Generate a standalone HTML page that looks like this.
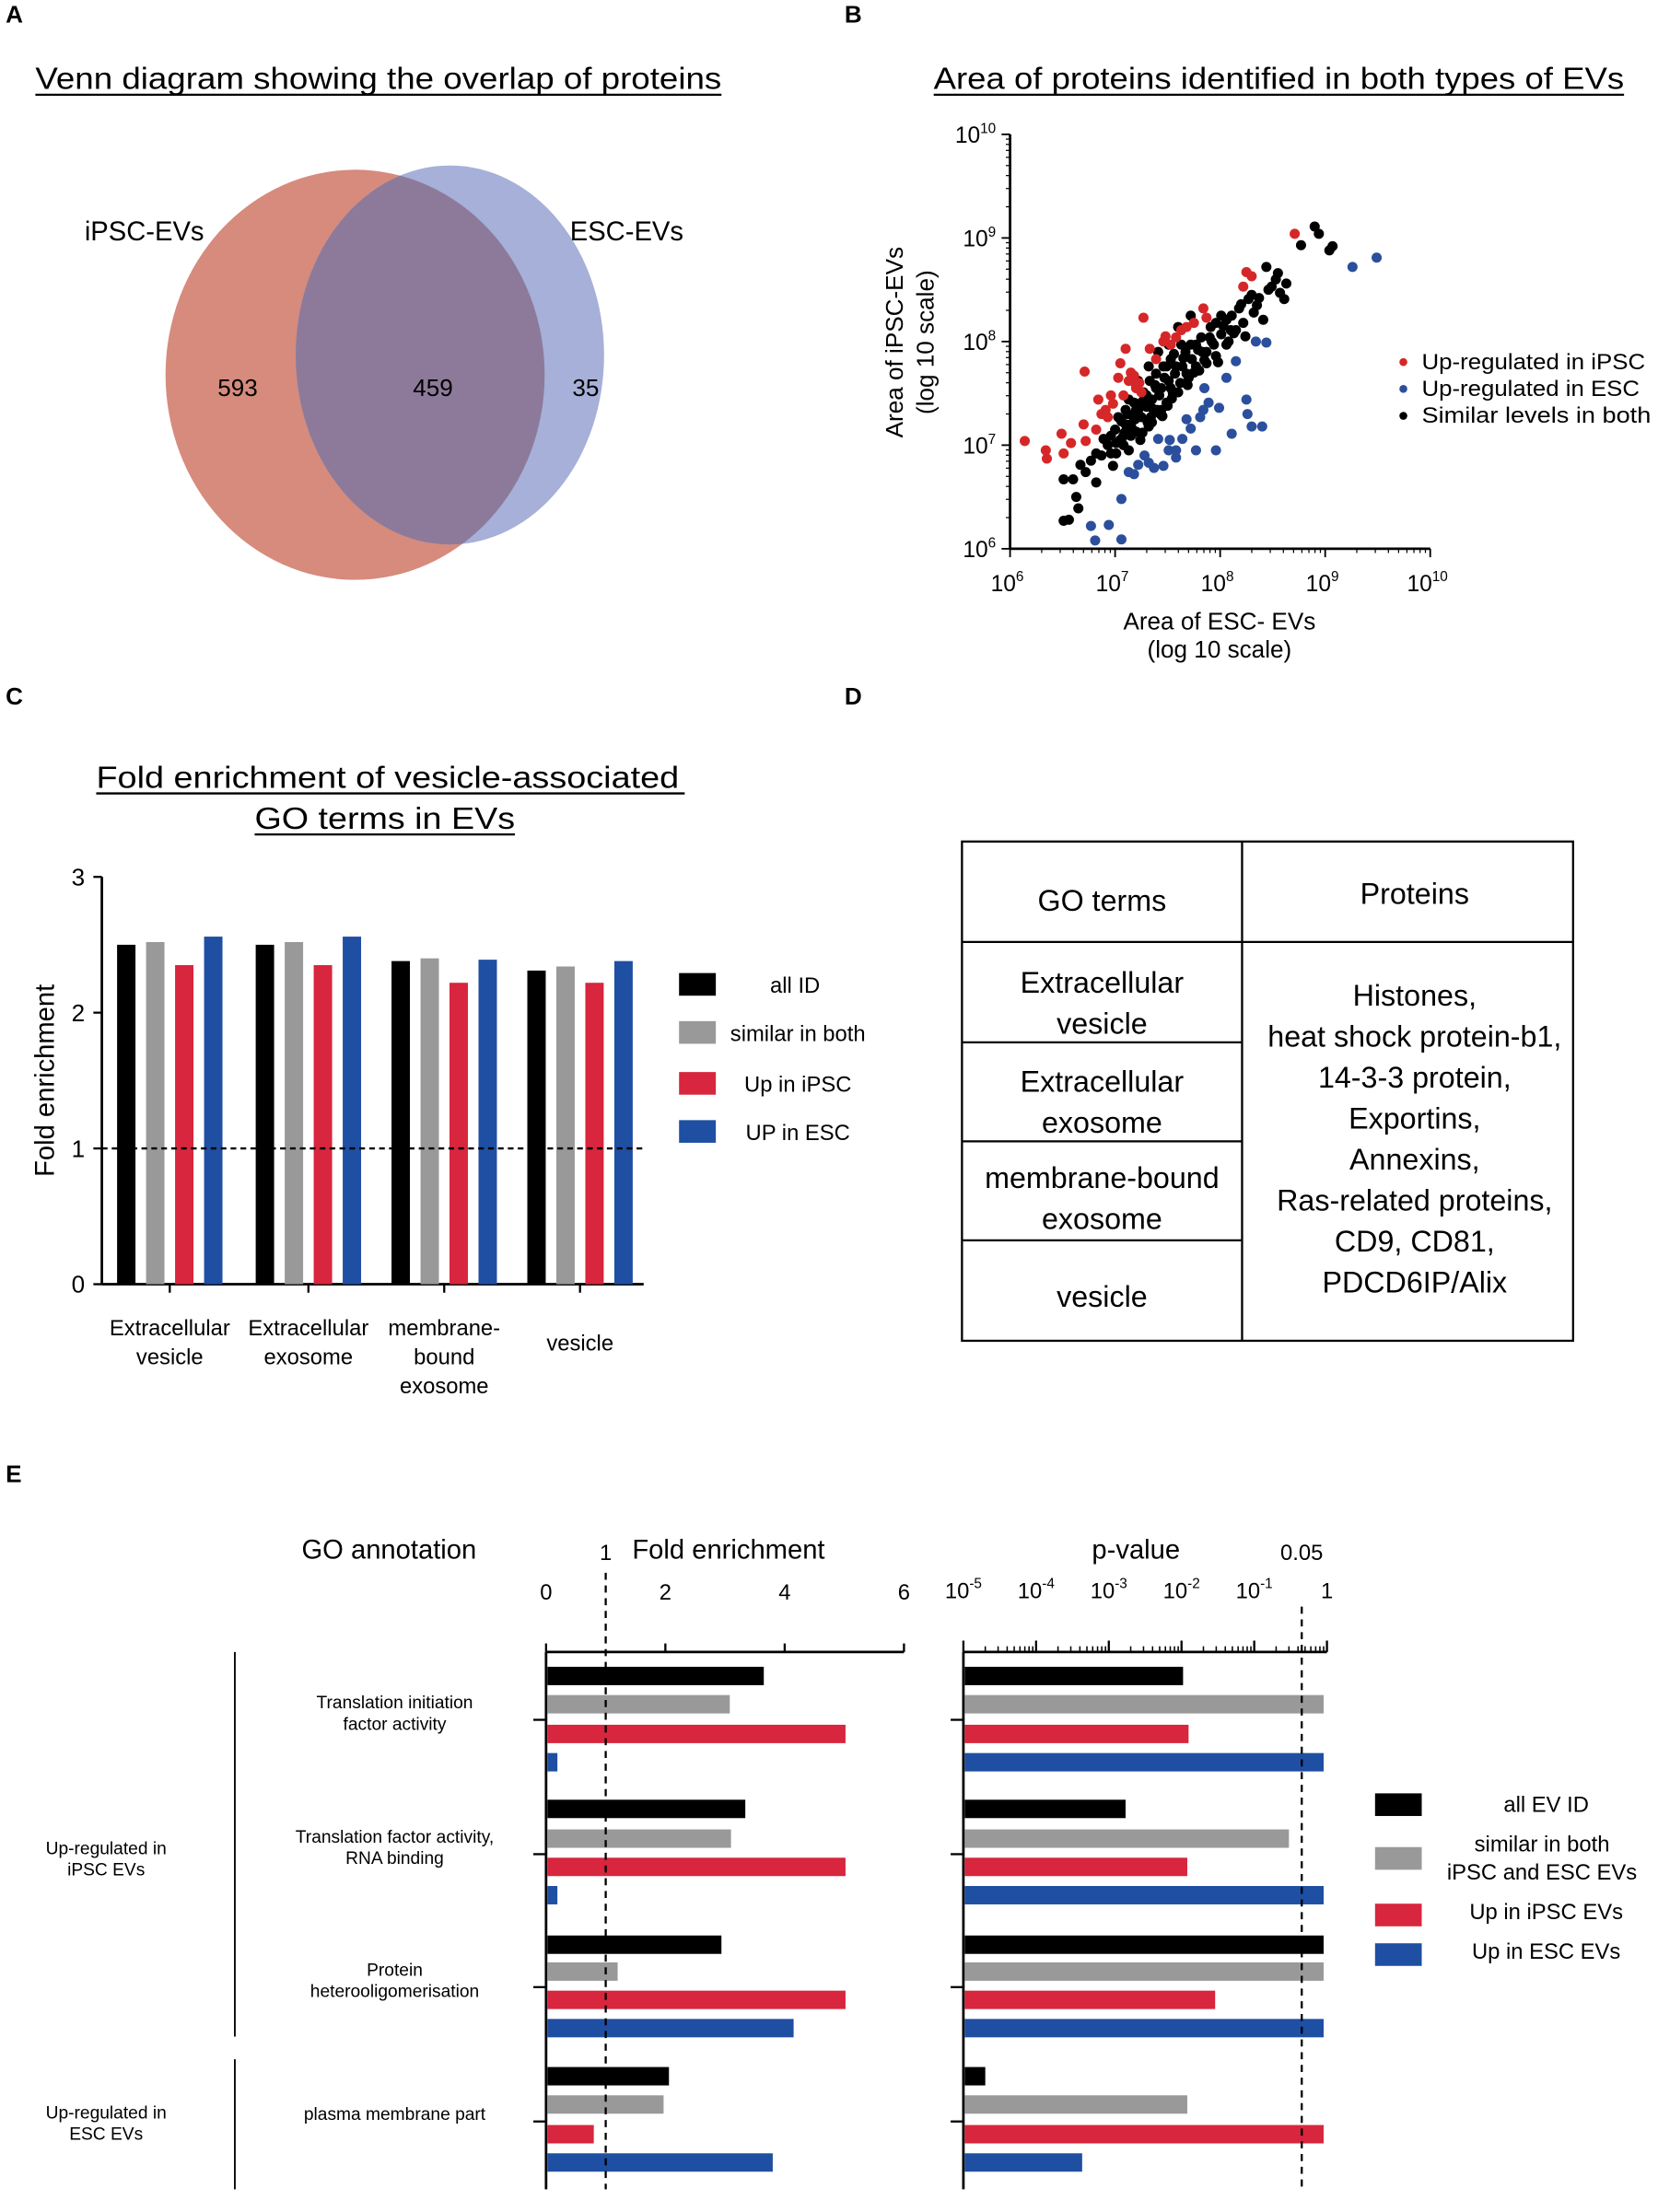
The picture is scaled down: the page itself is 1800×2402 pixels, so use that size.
<!DOCTYPE html>
<html><head><meta charset="utf-8">
<style>
html,body{margin:0;padding:0;background:#fff;}
svg{display:block;font-family:"Liberation Sans",Arial,sans-serif;}
</style></head>
<body>
<svg id="fig" width="1800" height="2402" viewBox="0 0 1172 1564" xmlns="http://www.w3.org/2000/svg">
<defs>
<clipPath id="redClip"><ellipse cx="251" cy="265" rx="134" ry="145"/></clipPath>
</defs>
<g font-weight="bold" font-size="17">
<text x="4" y="16">A</text>
<text x="597" y="16">B</text>
<text x="4" y="498">C</text>
<text x="597" y="498">D</text>
<text x="4" y="1048">E</text>
</g>

<g>
<text x="25" y="63" font-size="22" textLength="485" lengthAdjust="spacingAndGlyphs">Venn diagram showing the overlap of proteins</text>
<line x1="25" y1="67" x2="510" y2="67" stroke="#000" stroke-width="1.5"/>
<ellipse cx="251" cy="265" rx="134" ry="145" fill="#d68b7d"/>
<ellipse cx="318" cy="251" rx="109" ry="134" fill="#a6b0d8"/>
<ellipse cx="318" cy="251" rx="109" ry="134" fill="#8d7a9a" clip-path="url(#redClip)"/>
<text x="102" y="170" font-size="19" text-anchor="middle">iPSC-EVs</text>
<text x="443" y="170" font-size="19" text-anchor="middle">ESC-EVs</text>
<text x="168" y="280" font-size="17" text-anchor="middle">593</text>
<text x="306" y="280" font-size="17" text-anchor="middle">459</text>
<text x="414" y="280" font-size="17" text-anchor="middle">35</text>
</g>

<g id="scatter">
<text x="660" y="63" font-size="22" textLength="488" lengthAdjust="spacingAndGlyphs">Area of proteins identified in both types of EVs</text>
<line x1="660" y1="67" x2="1148" y2="67" stroke="#000" stroke-width="1.5"/>
<text transform="translate(638,242) rotate(-90)" font-size="17" text-anchor="middle">Area of iPSC-EVs</text>
<text transform="translate(660,242) rotate(-90)" font-size="17" text-anchor="middle">(log 10 scale)</text>
<text x="862" y="445" font-size="17" text-anchor="middle">Area of ESC- EVs</text>
<text x="862" y="465" font-size="17" text-anchor="middle">(log 10 scale)</text>
<g font-size="15.5">
<circle cx="992" cy="256" r="2.8" fill="#d62728"/>
<text x="1005" y="261" textLength="158" lengthAdjust="spacingAndGlyphs">Up-regulated in iPSC</text>
<circle cx="992" cy="275" r="2.8" fill="#2b4f9c"/>
<text x="1005" y="280" textLength="154" lengthAdjust="spacingAndGlyphs">Up-regulated in ESC</text>
<circle cx="992" cy="294" r="2.8" fill="#000"/>
<text x="1005" y="299" textLength="162" lengthAdjust="spacingAndGlyphs">Similar levels in both</text>
</g>
</g>

<g id="barC">
<text x="68" y="557" font-size="22" textLength="412" lengthAdjust="spacingAndGlyphs">Fold enrichment of vesicle-associated</text>
<line x1="68" y1="561" x2="484" y2="561" stroke="#000" stroke-width="1.5"/>
<text x="180" y="586" font-size="22" textLength="184" lengthAdjust="spacingAndGlyphs">GO terms in EVs</text>
<line x1="180" y1="590" x2="364" y2="590" stroke="#000" stroke-width="1.5"/>
<text transform="translate(38,764) rotate(-90)" font-size="19" text-anchor="middle">Fold enrichment</text>
</g>

<g font-size="21" text-anchor="middle">
<rect x="680" y="595" width="432" height="353" fill="none" stroke="#000" stroke-width="1.5"/>
<line x1="878" y1="595" x2="878" y2="948" stroke="#000" stroke-width="1.5"/>
<line x1="680" y1="666" x2="1112" y2="666" stroke="#000" stroke-width="1.5"/>
<line x1="680" y1="737" x2="878" y2="737" stroke="#000" stroke-width="1.5"/>
<line x1="680" y1="807" x2="878" y2="807" stroke="#000" stroke-width="1.5"/>
<line x1="680" y1="877" x2="878" y2="877" stroke="#000" stroke-width="1.5"/>
<text x="779" y="644">GO terms</text>
<text x="1000" y="639">Proteins</text>
<text x="779" y="702">Extracellular</text>
<text x="779" y="731">vesicle</text>
<text x="779" y="772">Extracellular</text>
<text x="779" y="801">exosome</text>
<text x="779" y="840">membrane-bound</text>
<text x="779" y="869">exosome</text>
<text x="779" y="924">vesicle</text>
<g>
<text x="1000" y="711">Histones,</text>
<text x="1000" y="740">heat shock protein-b1,</text>
<text x="1000" y="769">14-3-3 protein,</text>
<text x="1000" y="798">Exportins,</text>
<text x="1000" y="827">Annexins,</text>
<text x="1000" y="856">Ras-related proteins,</text>
<text x="1000" y="885">CD9, CD81,</text>
<text x="1000" y="914">PDCD6IP/Alix</text>
</g>
</g>

<g id="panelE">
<text x="275" y="1102" font-size="19" text-anchor="middle">GO annotation</text>
<text x="515" y="1102" font-size="19" text-anchor="middle">Fold enrichment</text>
<text x="803" y="1102" font-size="19" text-anchor="middle">p-value</text>
<line x1="166" y1="1168" x2="166" y2="1440" stroke="#000" stroke-width="1.2"/>
<line x1="166" y1="1456" x2="166" y2="1548" stroke="#000" stroke-width="1.2"/>
<text x="75" y="1311" font-size="12.5" text-anchor="middle">Up-regulated in</text>
<text x="75" y="1326" font-size="12.5" text-anchor="middle">iPSC EVs</text>
<text x="75" y="1498" font-size="12.5" text-anchor="middle">Up-regulated in</text>
<text x="75" y="1513" font-size="12.5" text-anchor="middle">ESC EVs</text>
<g font-size="15.5" text-anchor="middle">
<rect x="972" y="1268" width="33" height="16" fill="#000"/>
<text x="1093" y="1281">all EV ID</text>
<rect x="972" y="1306" width="33" height="16" fill="#999"/>
<text x="1090" y="1309">similar in both</text>
<text x="1090" y="1329">iPSC and ESC EVs</text>
<rect x="972" y="1346" width="33" height="16" fill="#d7263d"/>
<text x="1093" y="1357">Up in iPSC EVs</text>
<rect x="972" y="1374" width="33" height="16" fill="#1f4fa3"/>
<text x="1093" y="1385">Up in ESC EVs</text>
</g>
</g>
</svg>
<script>
// ---------- Panel B data (log10 areas) ----------
const redX=[6.14,6.34,6.35,6.49,6.51,6.58,6.71,6.70,6.72,6.82,6.84,6.91,6.96,7.03,7.05,7.10,7.13,7.20,7.25,7.27,7.33,7.39,7.46,7.53,7.58,7.63,7.68,7.75,7.84,7.87,8.22,8.25,8.30,8.71,6.93,7.08,7.18,7.20,6.98,7.15,7.23,7.48,6.87];
const redY=[7.04,6.95,6.87,7.11,6.92,7.02,7.71,7.20,7.04,7.15,7.44,7.34,7.48,7.65,7.79,7.93,7.62,7.58,7.51,8.23,7.93,7.83,8.00,7.97,8.04,8.11,8.14,8.18,8.32,8.23,8.53,8.67,8.63,9.04,7.27,7.48,7.67,7.55,7.40,7.70,7.60,8.05,7.30];
const blueX=[6.77,6.81,6.94,7.06,7.06,7.13,7.18,7.22,7.32,7.37,7.46,7.51,7.58,7.64,7.77,7.81,7.84,7.89,7.96,7.99,8.06,8.11,8.15,8.25,8.26,8.30,8.40,8.34,8.44,9.26,9.49,7.41,7.72,7.58,7.28,7.52,7.68,7.85];
const blueY=[6.22,6.08,6.23,6.09,6.48,6.74,6.72,6.81,6.83,6.78,6.80,6.95,6.95,7.06,6.95,7.27,7.34,7.41,6.95,7.36,7.65,7.11,7.81,7.44,7.30,7.18,7.18,8.00,7.99,8.72,8.81,7.06,7.16,6.88,6.90,7.05,7.25,7.55];
const blackX=[6.51,6.51,6.56,6.60,6.63,6.65,6.67,6.72,6.77,6.82,6.82,6.87,6.89,6.96,7.00,7.01,7.06,7.08,7.10,7.13,7.15,7.18,7.20,7.22,7.25,7.27,7.30,7.32,7.33,7.35,7.39,7.40,7.44,7.46,7.49,7.51,7.53,7.57,7.60,7.64,7.67,7.70,7.73,7.77,7.80,7.83,7.87,7.90,7.94,7.96,8.01,8.06,8.08,8.11,8.15,8.18,8.22,8.27,8.32,8.37,8.41,8.44,8.49,8.53,8.57,8.61,8.63,8.77,8.90,8.94,9.04,9.07,7.39,7.44,7.49,7.53,7.58,7.63,7.68,7.72,7.77,7.82,7.87,7.91,7.96,8.01,8.06,8.10,7.34,7.30,7.25,7.20,7.15,7.10,7.06,7.01,6.96,7.03,7.13,7.22,7.32,7.41,7.51,7.60,7.72,7.05,7.09,7.12,7.16,7.19,7.24,7.28,7.31,7.36,7.38,7.42,7.45,7.47,7.50,7.55,7.56,7.62,7.65,7.69,7.75,7.79,7.85,7.92,7.98,8.03,8.13,8.20,8.24,8.30,8.35,8.46,8.55,7.08,7.17,7.26,7.35,7.43,7.54,6.93,6.98];
const blackY=[6.67,6.27,6.28,6.67,6.50,6.39,6.81,6.74,6.85,6.92,6.64,6.90,7.06,6.92,7.15,7.02,7.23,7.09,7.34,6.95,7.20,7.41,7.13,7.34,7.27,7.51,7.37,7.18,7.62,7.44,7.69,7.34,7.55,7.76,7.41,7.62,7.83,7.69,7.51,7.76,7.90,7.65,7.83,7.97,7.72,7.90,7.79,8.04,7.97,8.18,8.07,8.21,8.00,8.25,8.11,8.32,8.18,8.41,8.28,8.42,8.21,8.72,8.53,8.60,8.47,8.41,8.56,8.93,9.11,9.04,8.88,8.92,7.55,7.34,7.76,7.55,7.76,7.97,7.69,7.97,7.76,8.04,7.90,8.14,7.86,8.25,7.97,8.11,7.27,7.48,7.41,7.34,7.09,7.20,7.06,6.92,7.09,7.27,7.44,7.62,7.76,7.90,7.97,8.14,8.25,7.05,7.12,7.30,7.16,7.25,7.05,7.45,7.22,7.35,7.58,7.48,7.28,7.65,7.38,7.50,7.88,7.60,7.84,7.58,7.70,7.92,7.82,8.00,7.80,8.15,8.08,8.36,8.05,8.45,8.35,8.50,8.66,7.00,7.28,7.12,7.22,7.30,7.45,7.00,6.80];
const bTicks=["6","7","8","9","10"];

// ---------- Panel C data ----------
const cCategories=[["Extracellular","vesicle"],["Extracellular","exosome"],["membrane-","bound","exosome"],["vesicle"]];
const cAll=[2.50,2.50,2.38,2.31];
const cSimilar=[2.52,2.52,2.40,2.34];
const cUpIPSC=[2.35,2.35,2.22,2.22];
const cUpESC=[2.56,2.56,2.39,2.38];
const cTicks=[0,1,2,3];
const cLegend=["all ID","similar in both","Up in iPSC","UP in ESC"];

// ---------- Panel E data ----------
const eTerms=[["Translation initiation","factor activity"],["Translation factor activity,","RNA binding"],["Protein","heterooligomerisation"],["plasma membrane part"]];
const eFoldAll=[3.65,3.34,2.94,2.06];
const eFoldSimilar=[3.08,3.10,1.20,1.97];
const eFoldUpIPSC=[5.02,5.02,5.02,0.80];
const eFoldUpESC=[0.19,0.19,4.15,3.80];
const ePAll=[0.0105,0.0017,0.9,0.00002];
const ePSimilar=[0.9,0.3,0.9,0.012];
const ePUpIPSC=[0.0125,0.012,0.029,0.9];
const ePUpESC=[0.9,0.9,0.9,0.00043];
const eFoldTicks=[0,2,4,6];
const ePTickExps=[-5,-4,-3,-2,-1,0];
const ePThreshold=0.45; // dashed significance line as drawn in the original figure

const NS="http://www.w3.org/2000/svg";
const svg=document.getElementById('fig');
function mk(tag,attrs,parent){const e=document.createElementNS(NS,tag);for(const k in attrs)e.setAttribute(k,attrs[k]);(parent||svg).appendChild(e);return e;}
const BLACK="#000",GRAY="#999",RED="#d7263d",BLUE="#1f4fa3";

// ===== Panel B =====
(function(){
const g=document.getElementById('scatter');
const x0=714,x1=1011,y0=388,y1=95;
const sx=v=>x0+(v-6)/4*(x1-x0);
const sy=v=>y0-(v-6)/4*(y0-y1);
let a=mk('line',{x1:x0,y1:y0,x2:x1,y2:y0,stroke:'#000','stroke-width':1.8},g);


a=mk('line',{x1:x0,y1:y0,x2:x0,y2:y1,stroke:'#000','stroke-width':1.8},g);


for(let d=6;d<=10;d++){
  const xt=sx(d),yt=sy(d);
  mk('line',{x1:xt,y1:y0,x2:xt,y2:y0+6,stroke:'#000','stroke-width':1.2},g);
  mk('line',{x1:x0,y1:yt,x2:x0-6,y2:yt,stroke:'#000','stroke-width':1.2},g);
  if(d<10){for(let m=2;m<=9;m++){const f=Math.log10(m);
    mk('line',{x1:sx(d+f),y1:y0,x2:sx(d+f),y2:y0+3,stroke:'#000','stroke-width':0.8},g);
    mk('line',{x1:x0,y1:sy(d+f),x2:x0-3,y2:sy(d+f),stroke:'#000','stroke-width':0.8},g);}}
}
bTicks.forEach((t,i)=>{
  const d=6+i;
  let tx=mk('text',{x:sx(d)-2,y:y0+30,'font-size':16,'text-anchor':'middle'},g);
  tx.innerHTML='10<tspan dy="-7" font-size="10">'+t+'</tspan>';
  
  
  let ty=mk('text',{x:x0-10,y:sy(d)+6,'font-size':16,'text-anchor':'end'},g);
  ty.innerHTML='10<tspan dy="-7" font-size="10">'+t+'</tspan>';
  
  
});
function pts(X,Y,col,name){for(let i=0;i<X.length;i++){const c=mk('circle',{cx:sx(X[i]),cy:sy(Y[i]),r:3.6,fill:col},g);
  
  }}
pts(blackX,blackY,'#000','point-similar');
pts(redX,redY,'#d62728','point-up-ipsc');
pts(blueX,blueY,'#2b4f9c','point-up-esc');
})();

// ===== Panel C =====
(function(){
const g=document.getElementById('barC');
const xL=72,xR=455,yB=908,yT=620;
const sy=v=>yB-v/3*(yB-yT);
const centers=[120,218,314,410];
const bw=13,step=20.5;
let a=mk('line',{x1:xL,y1:yT,x2:xL,y2:yB,stroke:'#000','stroke-width':1.8},g);


a=mk('line',{x1:xL,y1:yB,x2:xR,y2:yB,stroke:'#000','stroke-width':1.8},g);


cTicks.forEach(t=>{mk('line',{x1:xL-6,y1:sy(t),x2:xL,y2:sy(t),stroke:'#000','stroke-width':1.5},g);
  const tx=mk('text',{x:xL-12,y:sy(t)+6,'font-size':17,'text-anchor':'end'},g);tx.textContent=t;
  
  });
const series=[[cAll,BLACK,'bar-all-id'],[cSimilar,GRAY,'bar-similar'],[cUpIPSC,RED,'bar-up-ipsc'],[cUpESC,BLUE,'bar-up-esc']];
centers.forEach((c,i)=>{
  series.forEach((s,j)=>{const x=c-1.5*step+j*step-bw/2;const v=s[0][i];
    const r=mk('rect',{x:x,y:sy(v),width:bw,height:yB-sy(v),fill:s[1]},g);
    
    });
  mk('line',{x1:c,y1:yB,x2:c,y2:yB+6,stroke:'#000','stroke-width':1.5},g);
  const lines=cCategories[i];
  lines.forEach((l,k)=>{const t=mk('text',{x:c,y:(lines.length===1?955:944)+k*20.5,'font-size':15.5,'text-anchor':'middle'},g);t.textContent=l;
    
    });
});
a=mk('line',{x1:xL,y1:sy(1),x2:xR,y2:sy(1),stroke:'#000','stroke-width':1.5,'stroke-dasharray':'4,3'},g);


const lc=[BLACK,GRAY,RED,BLUE],ly=[688,722,758,792],lx=[562,564,564,564];
cLegend.forEach((l,i)=>{const r=mk('rect',{x:480,y:ly[i],width:26,height:16,fill:lc[i]},g);
  
  
  const t=mk('text',{x:lx[i],y:ly[i]+14,'font-size':15.5,'text-anchor':'middle'},g);t.textContent=l;
  
  });
})();

// ===== Panel E =====
(function(){
const g=document.getElementById('panelE');
const yTop=1168,yBot=1548;
const groupY=[[1185,1205,1226,1246],[1279,1300,1320,1340],[1375,1394,1414,1434],[1468,1488,1509,1529]];
const tickY=[1216,1311,1405,1500];
const bh=13;
const fx0=386,fx1=639;const fx=v=>fx0+v/6*(fx1-fx0);
let a=mk('line',{x1:fx0,y1:yTop,x2:fx1,y2:yTop,stroke:'#000','stroke-width':1.8},g);


a=mk('line',{x1:fx0,y1:yTop,x2:fx0,y2:yBot,stroke:'#000','stroke-width':1.8},g);


eFoldTicks.forEach(t=>{mk('line',{x1:fx(t),y1:yTop,x2:fx(t),y2:yTop-6,stroke:'#000','stroke-width':1.5},g);
  const tx=mk('text',{x:fx(t),y:1131,'font-size':15.5,'text-anchor':'middle'},g);tx.textContent=t;
  
  });
let t1=mk('text',{x:fx(1),y:1103,'font-size':15.5,'text-anchor':'middle'},g);t1.textContent='1';


const px0=681,px1=938;const px=v=>px0+(Math.log10(v)+5)/5*(px1-px0);
a=mk('line',{x1:px0,y1:yTop,x2:px1,y2:yTop,stroke:'#000','stroke-width':1.8},g);


a=mk('line',{x1:px0,y1:yTop,x2:px0,y2:yBot,stroke:'#000','stroke-width':1.8},g);


ePTickExps.forEach(e=>{const x=px(Math.pow(10,e));
  mk('line',{x1:x,y1:yTop,x2:x,y2:yTop-8,stroke:'#000','stroke-width':1.5},g);
  if(e<0){for(let m=2;m<=9;m++){const xm=px(m*Math.pow(10,e));mk('line',{x1:xm,y1:yTop,x2:xm,y2:yTop-4,stroke:'#000','stroke-width':1},g);}}
  const tx=mk('text',{x:x,y:1130,'font-size':15.5,'text-anchor':'middle'},g);
  tx.innerHTML=e===0?'1':'10<tspan dy="-7" font-size="10">'+e+'</tspan>';
  
  });
let t5=mk('text',{x:px(ePThreshold),y:1103,'font-size':15.5,'text-anchor':'middle'},g);t5.textContent='0.05';


const fser=[[eFoldAll,BLACK,'fold-bar-all'],[eFoldSimilar,GRAY,'fold-bar-similar'],[eFoldUpIPSC,RED,'fold-bar-up-ipsc'],[eFoldUpESC,BLUE,'fold-bar-up-esc']];
const pser=[[ePAll,BLACK,'p-bar-all'],[ePSimilar,GRAY,'p-bar-similar'],[ePUpIPSC,RED,'p-bar-up-ipsc'],[ePUpESC,BLUE,'p-bar-up-esc']];
for(let i=0;i<4;i++){
  fser.forEach((s,j)=>{const y=groupY[i][j]-bh/2;
    const r=mk('rect',{x:fx0+1,y:y,width:fx(s[0][i])-fx0-1,height:bh,fill:s[1]},g);
    
    });
  pser.forEach((s,j)=>{const y=groupY[i][j]-bh/2;
    const r=mk('rect',{x:px0+1,y:y,width:px(s[0][i])-px0-1,height:bh,fill:s[1]},g);
    
    });
  mk('line',{x1:fx0-9,y1:tickY[i],x2:fx0,y2:tickY[i],stroke:'#000','stroke-width':1.5},g);
  mk('line',{x1:px0-9,y1:tickY[i],x2:px0,y2:tickY[i],stroke:'#000','stroke-width':1.5},g);
  const lines=eTerms[i];
  lines.forEach((l,k)=>{const t=mk('text',{x:279,y:(lines.length===1?tickY[i]-1:tickY[i]-8)+k*15,'font-size':12.5,'text-anchor':'middle'},g);t.textContent=l;
    
    });
}
a=mk('line',{x1:fx(1),y1:1112,x2:fx(1),y2:yBot,stroke:'#000','stroke-width':1.5,'stroke-dasharray':'5,4'},g);


a=mk('line',{x1:px(ePThreshold),y1:1136,x2:px(ePThreshold),y2:yBot,stroke:'#000','stroke-width':1.5,'stroke-dasharray':'5,4'},g);


})();
</script>
</body></html>
